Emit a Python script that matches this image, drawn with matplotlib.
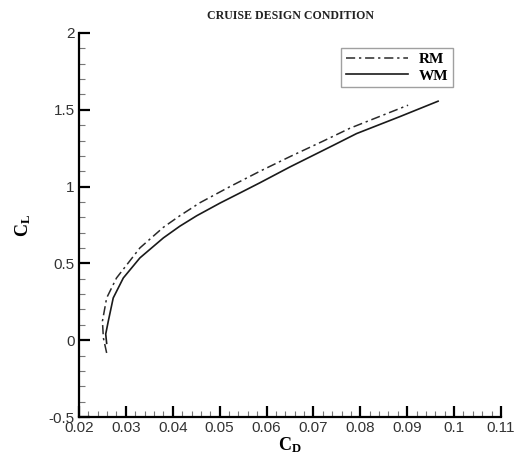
import matplotlib.pyplot as plt
from matplotlib.ticker import MultipleLocator, FuncFormatter

plt.rcParams['mathtext.fontset'] = 'custom'
plt.rcParams['mathtext.bf'] = 'Liberation Serif:bold'
plt.rcParams['mathtext.rm'] = 'Liberation Serif'

# Drag polar values
rm_cd = [0.0259, 0.0252, 0.0250, 0.0259, 0.0280, 0.0330, 0.0380, 0.0415, 0.0458, 0.0522,
         0.0586, 0.0650, 0.0720, 0.0778, 0.0902]
rm_cl = [-0.083, 0.015, 0.124, 0.275, 0.405, 0.601, 0.735, 0.810, 0.895, 1.000,
         1.100, 1.195, 1.295, 1.380, 1.530]
wm_cd = [0.0259, 0.0257, 0.02625, 0.0273, 0.02945, 0.0330, 0.0380, 0.0415, 0.0451, 0.0501,
         0.0543, 0.0586, 0.0650, 0.0742, 0.0792, 0.0884, 0.0966]
wm_cl = [-0.02, 0.04, 0.124, 0.275, 0.405, 0.536, 0.666, 0.742, 0.810, 0.893,
         0.958, 1.025, 1.128, 1.268, 1.345, 1.455, 1.556]

fig = plt.figure(figsize=(5.18, 4.55), dpi=100)
ax = fig.add_axes([0.1525, 0.0835, 0.8145, 0.844])

ax.plot(rm_cd, rm_cl, color='#2a2a2a', lw=1.1, dashes=(6, 2.5, 1.5, 2.5), label='RM')
ax.plot(wm_cd, wm_cl, color='#1a1a1a', lw=1.2, label='WM')

ax.set_xlim(0.02, 0.11)
ax.set_ylim(-0.5, 2)
ax.xaxis.set_major_locator(MultipleLocator(0.01))
ax.xaxis.set_minor_locator(MultipleLocator(0.002))
ax.yaxis.set_major_locator(MultipleLocator(0.5))
ax.yaxis.set_minor_locator(MultipleLocator(0.1))
fmt = FuncFormatter(lambda v, p: '%g' % round(v, 4))
ax.xaxis.set_major_formatter(fmt)
ax.yaxis.set_major_formatter(fmt)

for s in ['top', 'right']:
    ax.spines[s].set_visible(False)
for s in ['left', 'bottom']:
    ax.spines[s].set_linewidth(1.6)

ax.tick_params(which='major', direction='in', length=8, width=1.6, labelsize=11, pad=3, colors='black')
ax.tick_params(which='minor', direction='in', length=4, width=0.8, color='#777777')
for lab in ax.get_xticklabels() + ax.get_yticklabels():
    lab.set_fontfamily('Liberation Sans')
    lab.set_color('#333333')

ax.set_xlabel(r'$\mathbf{C_D}$', fontsize=13, labelpad=0)
ax.set_ylabel(r'$\mathbf{C_L}$', fontsize=13, labelpad=11)

fig.text(0.56, 0.965, 'CRUISE DESIGN CONDITION', ha='center', va='center',
         fontsize=8.6, fontweight='bold', family='Liberation Serif', color='#222222')

leg = ax.legend(loc='upper left', bbox_to_anchor=(0.621, 0.962), frameon=True, fancybox=False,
                edgecolor='#888888', handlelength=4.1, handletextpad=0.7, borderpad=0.3,
                borderaxespad=0, labelspacing=0.2,
                prop={'family': 'Liberation Serif', 'weight': 'bold', 'size': 11})
leg.get_frame().set_linewidth(1.0)

fig.savefig('out.png', dpi=100)
